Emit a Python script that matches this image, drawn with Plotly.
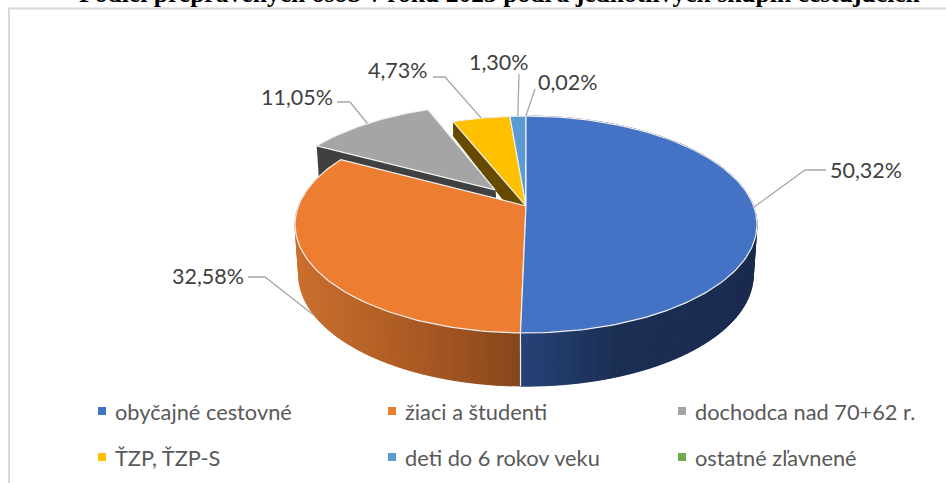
import math
import plotly.graph_objects as go

categories = ["obyčajné cestovné", "žiaci a študenti", "dochodca nad 70+62 r.",
              "ŤZP, ŤZP-S", "deti do 6 rokov veku", "ostatné zľavnené"]
values = [50.32, 32.58, 11.05, 4.73, 1.30, 0.02]
colors = ["#4472C4", "#ED7D31", "#A5A5A5", "#FFC000", "#5B9BD5", "#70AD47"]
title_text = "Podiel prepravených osôb v roku 2023 podľa jednotlivých skupín cestujúcich"

CX, CY, A, B, K = 526.0, 206.0, 227.6, 105.3, 0.1705
A2, B2, D = 224.0, 108.0, 50.0
EXPLODE = {2: 0.21}
EDGE = "#f0f0f0"


def project(u, v, lower=False):
    d = 1 + K * v
    if lower:
        return CX + A2 * u / d, CY + D - B2 * v / d
    return CX + A * u / d, CY - B * v / d


def uv(pct, off=(0, 0)):
    t = math.radians(pct * 3.6)
    return math.sin(t) + off[0], math.cos(t) + off[1]


def offset(i, mid):
    e = EXPLODE.get(i, 0)
    t = math.radians(mid * 3.6)
    return e * math.sin(t), e * math.cos(t)


def lerp_color(stops, x):
    x = max(stops[0][0], min(stops[-1][0], x))
    for (x0, c0), (x1, c1) in zip(stops, stops[1:]):
        if x <= x1:
            f = (x - x0) / (x1 - x0)
            rgb = [round(c0[j] + (c1[j] - c0[j]) * f) for j in range(3)]
            return "rgb(%d,%d,%d)" % tuple(rgb)
    return "rgb(%d,%d,%d)" % stops[-1][1]


fig = go.Figure()


def poly(xs, ys, fill, line=None, width=1):
    fig.add_trace(go.Scatter(x=xs, y=ys, mode="lines", fill="toself", fillcolor=fill,
                             line=dict(color=line or fill, width=width),
                             hoverinfo="skip", showlegend=False))


starts, s = [], 0.0
for val in values:
    starts.append(s)
    s += val
mids = [st + val / 2 for st, val in zip(starts, values)]


def top_slice(i):
    off = offset(i, mids[i])
    n = max(2, int(values[i] * 3))
    pts = [project(off[0], off[1])]
    for j in range(n + 1):
        pts.append(project(*uv(starts[i] + values[i] * j / n, off)))
    pts.append(pts[0])
    poly([p[0] for p in pts], [p[1] for p in pts], colors[i], EDGE, 1.2)


# back slices: yellow wall, gray wall + tops
c_u, c_v = uv(starts[3])
cx_top, cy_top = project(c_u, c_v)
poly([cx_top, CX, CX, cx_top], [cy_top, CY, CY + 23, cy_top + 14], "#664a00", "#664a00", 1)
top_slice(3)
top_slice(4)
top_slice(5)

off2 = offset(2, mids[2])
g1 = project(*uv(starts[2], off2))
g0 = project(off2[0], off2[1])
poly([g1[0], g0[0], g0[0] + 2, g1[0] + 2], [g1[1], g0[1], g0[1] + 30, g1[1] + 30], "#404040", "#404040", 1)
top_slice(2)

# front walls as shaded strips, each overlapping the next to avoid seams
blue_stops = [(521, (38, 66, 118)), (620, (27, 46, 84)), (760, (26, 43, 78))]
orange_stops = [(295, (202, 112, 46)), (400, (174, 92, 36)), (470, (154, 80, 32)), (521, (132, 70, 26))]
for i, stops in ((1, orange_stops), (0, blue_stops)):
    n = int(values[i] * 2)
    for j in range(n):
        a0 = starts[i] + values[i] * j / n
        a1 = starts[i] + values[i] * min(n, j + 2) / n
        amid = starts[i] + values[i] * (j + 0.5) / n
        p0, p1 = project(*uv(a0)), project(*uv(a1))
        q0, q1 = project(*uv(a0), lower=True), project(*uv(a1), lower=True)
        col = lerp_color(stops, project(*uv(amid))[0])
        poly([p0[0], p1[0], q1[0], q0[0], p0[0]], [p0[1], p1[1], q1[1], q0[1], p0[1]], col, col, 0.5)

# seam between the two front walls
seam_top = project(*uv(starts[1]))
seam_low = project(*uv(starts[1]), lower=True)
fig.add_trace(go.Scatter(x=[seam_top[0], seam_low[0]], y=[seam_top[1], seam_low[1]], mode="lines",
                         line=dict(color=EDGE, width=1.2), hoverinfo="skip", showlegend=False))
top_slice(1)
top_slice(0)

# leader lines and value labels
knees = [[(805, 170), (826, 170)], [(265, 277), (248, 277)], [(350, 102), (337, 102)],
         [(445, 77), (433, 77)], [(519, 74)], [(535, 89)]]
label_pos = [(866, 170), (208, 276), (297, 97), (398, 70), (499, 62), (568, 82)]
for i, val in enumerate(values):
    # the orange label's leader meets the lower rim of the wall, as in the reference
    anchor = project(*uv(mids[i], offset(i, mids[i])), lower=(i == 1))
    pts = [anchor] + knees[i]
    fig.add_trace(go.Scatter(x=[p[0] for p in pts], y=[p[1] for p in pts], mode="lines",
                             line=dict(color="#a6a6a6", width=1.3), hoverinfo="skip", showlegend=False))
    fig.add_annotation(x=label_pos[i][0], y=label_pos[i][1], text=f"{val:.2f}%".replace(".", ","),
                       showarrow=False, font=dict(family="Lato", size=21.5, color="#404040"))

# legend
legend_pos = [(102, 411), (392, 411), (682, 411), (102, 457), (392, 457), (682, 457)]
for i, name in enumerate(categories):
    lx, ly = legend_pos[i]
    fig.add_trace(go.Scatter(x=[lx], y=[ly], mode="markers",
                             marker=dict(symbol="square", size=8, color=colors[i]),
                             hoverinfo="skip", showlegend=False))
    fig.add_annotation(x=lx + 10.5, y=ly, text=name, showarrow=False, xanchor="left",
                       font=dict(family="Lato", size=21.8, color="#595959"))

fig.add_annotation(x=499, y=10, text=f"<b>{title_text}</b>", showarrow=False, yanchor="bottom",
                   font=dict(family="Liberation Serif", size=25.6, color="#000000"))

fig.update_layout(
    width=946, height=483, margin=dict(l=0, r=0, t=0, b=0),
    paper_bgcolor="white", plot_bgcolor="white",
    xaxis=dict(range=[0, 946], visible=False, fixedrange=True),
    yaxis=dict(range=[483, 0], visible=False, fixedrange=True),
    shapes=[dict(type="path", path="M 9 483 L 9 8.5 L 946 8.5",
                 line=dict(color="#d9d9d9", width=2), xref="x", yref="y", layer="below")],
)
fig.write_html("out.html", config={"displayModeBar": False},
               post_script="document.body.style.margin='0';document.body.style.overflow='hidden';")
